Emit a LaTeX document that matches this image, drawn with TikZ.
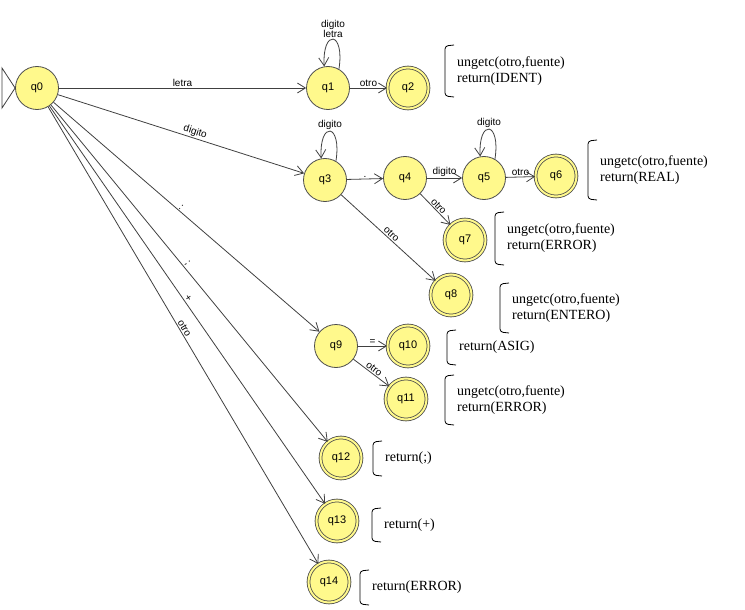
\documentclass[tikz,border=0pt]{standalone}
\usepackage{fontspec}
\setmainfont{Liberation Serif}
\newfontfamily\lsans{Liberation Sans}
\usetikzlibrary{arrows.meta}
\begin{document}
\begin{tikzpicture}[x=1pt,y=-1pt,
 st/.style={circle,draw=black!70,line width=0.8pt,fill=yellow!45,minimum size=43pt,inner sep=0pt,font=\lsans\fontsize{11}{11}\selectfont},
 fin/.style={st,double=yellow!45,double distance=2pt,minimum size=41pt},
 e/.style={draw=black!75,line width=0.8pt,-{Straight Barb[length=8pt,width=10pt]}},
 lb/.style={font=\lsans\fontsize{10}{10}\selectfont,inner sep=1pt},
 br/.style={align=left,font=\fontsize{14}{16}\selectfont,anchor=west,inner sep=0pt}]
\useasboundingbox (0,0) rectangle (745,610);
\node[st] (q0) at (37,88) {q0};
\node[st] (q1) at (328,88) {q1};
\node[fin] (q2) at (408,88) {q2};
\node[st] (q3) at (325,180) {q3};
\node[st] (q4) at (405,178) {q4};
\node[st] (q5) at (484,178) {q5};
\node[fin] (q6) at (556,176) {q6};
\node[fin] (q7) at (465,240) {q7};
\node[fin] (q8) at (451,295) {q8};
\node[st] (q9) at (336,346) {q9};
\node[fin] (q10) at (408,346) {q10};
\node[fin] (q11) at (406,399) {q11};
\node[fin] (q12) at (341,458) {q12};
\node[fin] (q13) at (337,521) {q13};
\node[fin] (q14) at (329,582) {q14};
\coordinate (i1) at (2,68); \coordinate (i2) at (2,108);
\draw[black!75,line width=0.8pt,fill=white] (i1) -- (q0.west) -- (i2) -- cycle;
\path[e] (q0) -- node[lb,above]{letra} (q1);
\path[e] (q0) -- node[lb,above,sloped,pos=0.55]{digito} (q3);
\path[e] (q0) -- node[lb,above,sloped,pos=0.47]{:} (q9);
\path[e] (q0) -- node[lb,above,sloped,pos=0.48]{;} (q12);
\path[e] (q0) -- node[lb,above,sloped,pos=0.49]{+} (q13);
\path[e] (q0) -- node[lb,above,sloped,pos=0.49]{otro} (q14);
\path[e] (q1) -- node[lb,above]{otro} (q2);
\path[e] (q3) -- node[lb,above]{.} (q4);
\path[e] (q4) -- node[lb,above]{digito} (q5);
\path[e] (q5) -- node[lb,above]{otro} (q6);
\path[e] (q4) -- node[lb,above,sloped]{otro} (q7);
\path[e] (q3) -- node[lb,above,sloped]{otro} (q8);
\path[e] (q9) -- node[lb,above]{=} (q10);
\path[e] (q9) -- node[lb,above,sloped]{otro} (q11);
\path[e] (q1.60) .. controls +(6,-38) and +(-2,-38) .. node[lb,above,align=center]{digito\\letra} (q1.100);
\path[e] (q3.60) .. controls +(6,-38) and +(-2,-38) .. node[lb,above]{digito} (q3.100);
\path[e] (q5.60) .. controls +(6,-38) and +(-2,-38) .. node[lb,above]{digito} (q5.100);
\foreach \x/\a/\b/\t in {445/45/97/{ungetc(otro,fuente)\\return(IDENT)},
 588/140/200/{ungetc(otro,fuente)\\return(REAL)},
 495/212/265/{ungetc(otro,fuente)\\return(ERROR)},
 500/283/333/{ungetc(otro,fuente)\\return(ENTERO)},
 447/330/365/{return(ASIG)},
 445/375/425/{ungetc(otro,fuente)\\return(ERROR)},
 373/441/476/{return(;)},
 372/508/542/{return(+)},
 360/570/605/{return(ERROR)}}{
 \draw[black,line width=0.8pt,rounded corners=3pt] (\x+9,\a) -- (\x,\a+1) -- (\x,\b-1) -- (\x+9,\b);
 \node[br] at (\x+12,{(\a+\b)/2}) {\t};
}
\end{tikzpicture}
\end{document}
